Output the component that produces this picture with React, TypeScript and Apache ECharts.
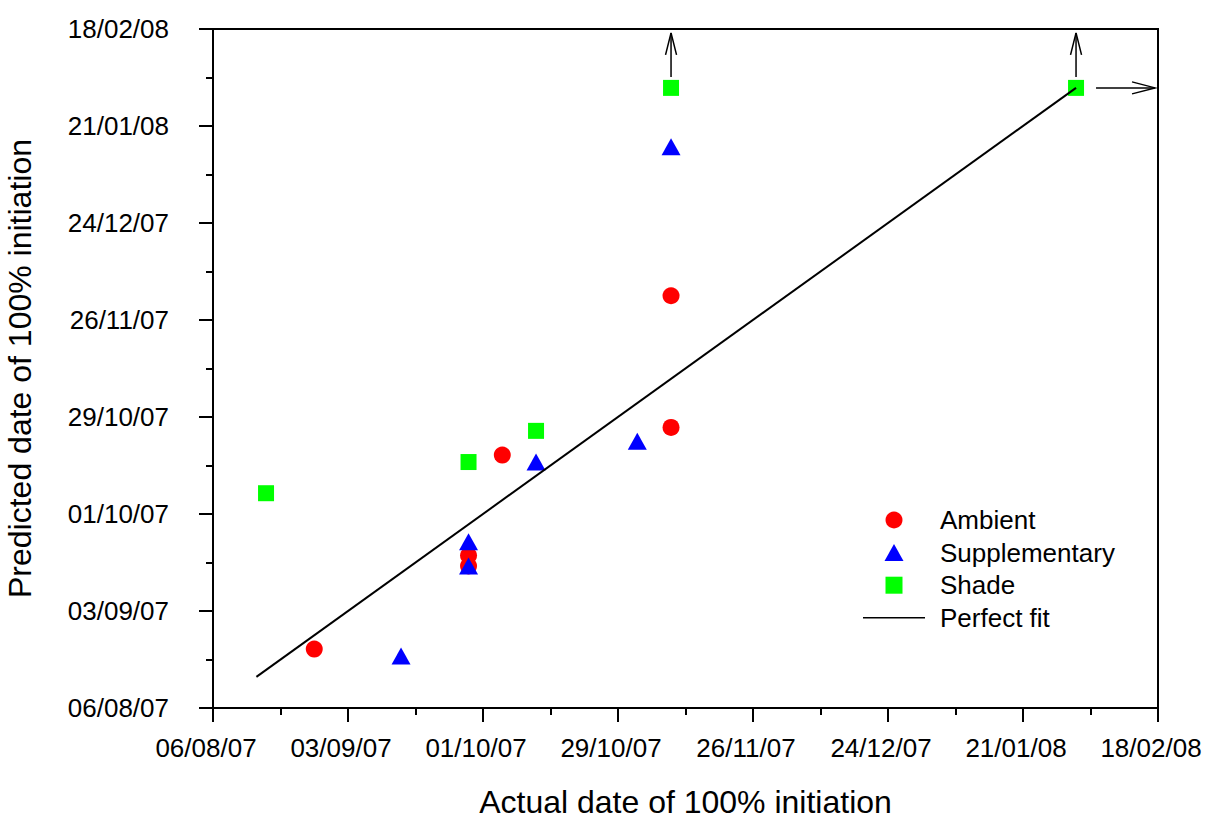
import { useEffect, useRef } from "react";
import * as echarts from "echarts";

// Day 0 of both axes and the last labelled date
const AXIS_START = "2007-08-06";
const AXIS_END = "2008-02-18";

// Actual (x) and predicted (y) dates of 100% initiation, per treatment
const ambientActual = ["2007-08-27", "2007-09-28", "2007-09-28", "2007-10-05", "2007-11-09", "2007-11-09"];
const ambientPredicted = ["2007-08-23", "2007-09-19", "2007-09-16", "2007-10-18", "2007-12-03", "2007-10-26"];

const supplementaryActual = ["2007-09-14", "2007-09-28", "2007-09-28", "2007-10-12", "2007-11-02", "2007-11-09"];
const supplementaryPredicted = ["2007-08-21", "2007-09-23", "2007-09-16", "2007-10-16", "2007-10-22", "2008-01-15"];

const shadeActual = ["2007-08-17", "2007-09-28", "2007-10-12", "2007-11-09", "2008-02-01"];
const shadePredicted = ["2007-10-07", "2007-10-16", "2007-10-25", "2008-02-01", "2008-02-01"];

// 1:1 reference line
const fitActual = ["2007-08-15", "2008-02-01"];
const fitPredicted = ["2007-08-15", "2008-02-01"];

// Shade points whose value lies beyond the axis end (arrows point off-scale)
const beyondTopActual = ["2007-11-09", "2008-02-01"];
const beyondTopPredicted = ["2008-02-01", "2008-02-01"];
const beyondRightActual = ["2008-02-01"];
const beyondRightPredicted = ["2008-02-01"];

const DAY_MS = 86400000;
const originMs = Date.parse(AXIS_START + "T00:00:00Z");
const toDay = (iso: string) => Math.round((Date.parse(iso + "T00:00:00Z") - originMs) / DAY_MS);
const pad = (n: number) => (n < 10 ? "0" + n : String(n));
const formatDay = (d: number) => {
  const t = new Date(originMs + d * DAY_MS);
  return `${pad(t.getUTCDate())}/${pad(t.getUTCMonth() + 1)}/${pad(t.getUTCFullYear() % 100)}`;
};
const pairs = (xs: string[], ys: string[]) => xs.map((x, i) => [toDay(x), toDay(ys[i])]);

const FONT = "'Liberation Sans', Arial, Helvetica, sans-serif";
const TICK_STEP = 28;

// Legend glyphs drawn as paths so they keep their proportions
const TRIANGLE_ICON = "path://M9.5,0L19,17L0,17Z";
const SQUARE_ICON = "path://M0,0H16V16H0Z";
const LINE_ICON = "path://M0,0H62V1.6H0Z";

const axisCommon = (name: string, nameGap: number, labelMargin: number, labelPadding: number[]) => ({
  type: "value" as const,
  min: 0,
  max: toDay(AXIS_END),
  interval: TICK_STEP,
  name,
  nameLocation: "middle" as const,
  nameGap,
  nameTextStyle: { fontFamily: FONT, fontSize: 32, color: "#000", lineHeight: 22 },
  axisLine: { show: true, onZero: false, lineStyle: { color: "#000", width: 2 } },
  axisTick: { show: true, inside: false, length: 14, lineStyle: { color: "#000", width: 2 } },
  minorTick: { show: true, splitNumber: 2, length: 7, lineStyle: { color: "#000", width: 2 } },
  splitLine: { show: false },
  minorSplitLine: { show: false },
  axisLabel: {
    fontFamily: FONT,
    fontSize: 26,
    color: "#000",
    margin: labelMargin,
    padding: labelPadding,
    showMinLabel: true,
    showMaxLabel: true,
    hideOverlap: false,
    formatter: (v: number) => formatDay(v),
  },
});

const arrowStyle = { stroke: "#000", lineWidth: 1.5, fill: "none" };

export default function App() {
  const ref = useRef<HTMLDivElement>(null);

  useEffect(() => {
    if (!ref.current) return;
    const chart = echarts.init(ref.current, undefined, { renderer: "svg" });

    chart.setOption({
      animation: false,
      backgroundColor: "#fff",
      grid: {
        left: 213,
        top: 29,
        right: 47,
        bottom: 111,
        outerBoundsMode: "none",
        containLabel: false,
        show: true,
        borderColor: "#000",
        borderWidth: 2,
        backgroundColor: "transparent",
      },
      xAxis: axisCommon("Actual date of 100% initiation", 83, 27, [0, 14, 0, 0]),
      yAxis: {
        ...axisCommon("Predicted date of 100% initiation", 182, 44, [0, 0, 0, 0]),
        nameRotate: 90,
      },
      legend: {
        orient: "vertical",
        left: 863,
        top: 507,
        padding: 0,
        itemWidth: 62,
        itemHeight: 17,
        itemGap: 6.6,
        data: [
          { name: "Ambient", icon: "circle" },
          { name: "Supplementary", icon: TRIANGLE_ICON },
          { name: "Shade", icon: SQUARE_ICON },
          { name: "Perfect fit", icon: LINE_ICON },
        ],
        textStyle: {
          fontFamily: FONT,
          fontSize: 26,
          color: "#000",
          lineHeight: 26,
          padding: [0, 0, 0, 10],
        },
      },
      series: [
        {
          name: "Ambient",
          type: "scatter",
          symbol: "circle",
          symbolSize: 17,
          itemStyle: { color: "#ff0000", opacity: 1 },
          data: pairs(ambientActual, ambientPredicted),
        },
        {
          name: "Supplementary",
          type: "scatter",
          symbol: "triangle",
          symbolSize: [19, 17],
          itemStyle: { color: "#0000ff", opacity: 1 },
          data: pairs(supplementaryActual, supplementaryPredicted),
        },
        {
          name: "Shade",
          type: "scatter",
          symbol: "rect",
          symbolSize: 16,
          itemStyle: { color: "#00ff00", opacity: 1 },
          data: pairs(shadeActual, shadePredicted),
        },
        {
          name: "Perfect fit",
          type: "line",
          symbol: "none",
          lineStyle: { color: "#000", width: 2 },
          itemStyle: { color: "#000" },
          data: pairs(fitActual, fitPredicted),
        },
        {
          name: "beyond-top",
          type: "custom",
          clip: false,
          silent: true,
          data: pairs(beyondTopActual, beyondTopPredicted),
          renderItem: (_params: any, api: any) => {
            const [x, y] = api.coord([api.value(0), api.value(1)]);
            const tip = y - 55;
            return {
              type: "group",
              children: [
                { type: "line", shape: { x1: x, y1: y - 11, x2: x, y2: tip }, style: arrowStyle },
                {
                  type: "polyline",
                  shape: { points: [[x - 5.5, tip + 22], [x, tip], [x + 5.5, tip + 22]] },
                  style: arrowStyle,
                },
              ],
            };
          },
        },
        {
          name: "beyond-right",
          type: "custom",
          clip: false,
          silent: true,
          data: pairs(beyondRightActual, beyondRightPredicted),
          renderItem: (_params: any, api: any) => {
            const [x, y] = api.coord([api.value(0), api.value(1)]);
            const tip = x + 79;
            return {
              type: "group",
              children: [
                { type: "line", shape: { x1: x + 20, y1: y, x2: tip, y2: y }, style: arrowStyle },
                {
                  type: "polyline",
                  shape: { points: [[tip - 23, y - 6], [tip, y], [tip - 23, y + 6]] },
                  style: arrowStyle,
                },
              ],
            };
          },
        },
      ],
    });

    return () => chart.dispose();
  }, []);

  return (
    <div
      ref={ref}
      style={{ position: "absolute", left: 0, top: 0, width: 1205, height: 819 }}
    />
  );
}
